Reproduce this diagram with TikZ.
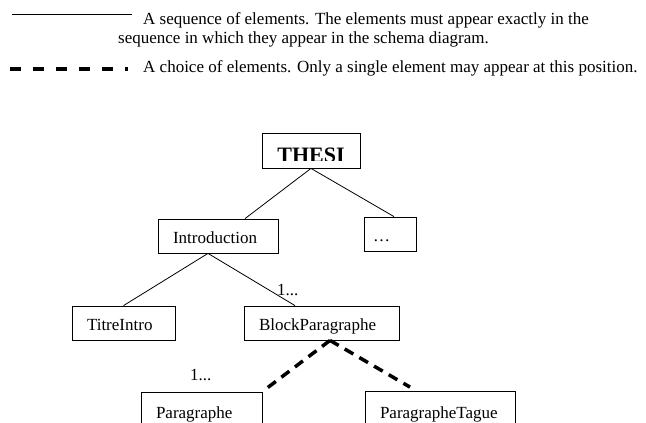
\documentclass[tikz,border=0pt]{standalone}
\usepackage{fontspec}
\setmainfont{Liberation Serif}
\usetikzlibrary{calc}
\begin{document}
\begin{tikzpicture}[x=1pt,y=-1pt,
  box/.style={draw, line width=0.8pt, rectangle, inner xsep=15pt, inner ysep=0pt,
    minimum height=34pt, text height=14pt, text depth=0pt, align=left,
    font=\fontsize{17}{20}\selectfont},
  seq/.style={line width=0.8pt},
  choice/.style={line width=3.5pt, dash pattern=on 10pt off 7pt},
  legchoice/.style={line width=3.5pt, dash pattern=on 11pt off 12pt},
  lbl/.style={inner sep=0pt, anchor=base west, font=\fontsize{17}{20}\selectfont}]
\useasboundingbox (0,0) rectangle (646,423);
% legend
\coordinate (ls1) at (12,14);
\coordinate (ls2) at (132,14);
\draw[line width=0.9pt] (ls1) -- (ls2);
\node[lbl] (lt1) at (143,24) {A sequence of elements. The elements must appear exactly in the};
\node[lbl] (lt2) at (118,43) {sequence in which they appear in the schema diagram.};
\coordinate (lc1) at (10,69);
\coordinate (lc2) at (128,69);
\draw[legchoice] (lc1) -- (lc2);
\node[lbl] (lt3) at (143,72) {A choice of elements. Only a single element may appear at this position.};
% tree nodes
\node[draw, line width=0.8pt, minimum width=98pt, minimum height=35pt, inner sep=0pt] (thesi) at (311,150.5) {};
\begin{scope}
  \clip (thesi.north west) rectangle ($(thesi.east)+(0,9.5)$);
  \node[anchor=base, inner sep=0pt, font=\bfseries\fontsize{22}{24}\selectfont] (thesitext) at (311,162) {THESI};
\end{scope}
\node[box, text width=90pt] (intro) at (218,236) {Introduction};
\node[box, inner xsep=9pt, text width=34pt] (dots) at (390,234) {\dots};
\node[box, text width=73pt] (titre) at (123.5,323) {TitreIntro};
\node[box, text width=125pt] (block) at (321.5,323) {BlockParagraphe};
\node[box, text width=91pt, minimum height=44pt, text height=9pt] (para) at (201.5,414) {Paragraphe};
\node[box, text width=120pt, minimum height=44pt, text height=9pt] (ptag) at (440,413.5) {ParagrapheTague};
% labels
\node[lbl] (m1) at (277,295) {1...};
\node[lbl] (m2) at (190,380) {1...};
% connectors
\draw[seq] (thesi.south) -- ($(intro.north)+(27,0)$);
\draw[seq] (thesi.south) -- ($(dots.north)+(4,0)$);
\draw[seq] ($(intro.south)+(-10,0)$) -- (titre.north);
\draw[seq] ($(intro.south)+(-10,0)$) -- ($(block.north)+(-26.5,0)$);
\draw[choice] ($(block.south)+(8.5,0)$) -- (para.north east);
\draw[choice] ($(block.south)+(8.5,0)$) -- ($(ptag.north)+(-30,-4)$);
\end{tikzpicture}
\end{document}
